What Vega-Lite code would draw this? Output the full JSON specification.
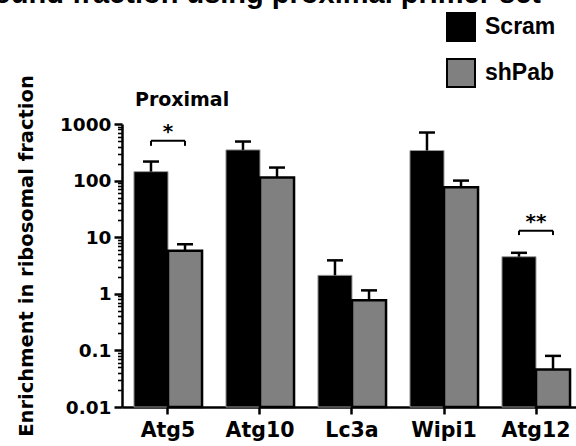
{
  "$schema": "https://vega.github.io/schema/vega-lite/v6.json",
  "width": 460,
  "height": 283,
  "autosize": {"type": "none"},
  "padding": {"left": 122, "top": 124, "right": 0, "bottom": 39},
  "background": "white",
  "title": {
    "text": "Enrichment in ribosome bound fraction using proximal primer set",
    "anchor": "end",
    "frame": "group",
    "offset": 0,
    "dy": 20,
    "dx": -41,
    "baseline": "alphabetic",
    "font": "Liberation Sans",
    "fontSize": 29,
    "fontWeight": "bold",
    "color": "black"
  },
  "config": {
    "view": {"stroke": null},
    "axis": {
      "grid": false,
      "domainColor": "black",
      "domainWidth": 2.5,
      "tickColor": "black",
      "tickWidth": 2.5,
      "labelColor": "black",
      "labelFont": "DejaVu Sans",
      "labelFontWeight": "bold",
      "labelOverlap": false
    }
  },
  "datasets": {
    "bars": [
      {"gene": "Atg5", "group": "Scram", "value": 144, "upper": 217},
      {"gene": "Atg5", "group": "shPab", "value": 5.77, "upper": 7.5},
      {"gene": "Atg10", "group": "Scram", "value": 349, "upper": 490},
      {"gene": "Atg10", "group": "shPab", "value": 113, "upper": 170},
      {"gene": "Lc3a", "group": "Scram", "value": 2.12, "upper": 3.9},
      {"gene": "Lc3a", "group": "shPab", "value": 0.773, "upper": 1.15},
      {"gene": "Wipi1", "group": "Scram", "value": 340, "upper": 707},
      {"gene": "Wipi1", "group": "shPab", "value": 76.4, "upper": 100},
      {"gene": "Atg12", "group": "Scram", "value": 4.52, "upper": 5.3},
      {"gene": "Atg12", "group": "shPab", "value": 0.046, "upper": 0.08}
    ],
    "sig": [
      {"gene": "Atg5", "level": 505, "label": "*"},
      {"gene": "Atg12", "level": 13, "label": "**"}
    ],
    "sigEnds": [
      {"gene": "Atg5", "group": "Scram", "level": 505, "end": 411},
      {"gene": "Atg5", "group": "shPab", "level": 505, "end": 411},
      {"gene": "Atg12", "group": "Scram", "level": 13, "end": 10.9},
      {"gene": "Atg12", "group": "shPab", "level": 13, "end": 10.9}
    ],
    "note": [
      {"gene": "Atg5", "y": 2040, "label": "Proximal"}
    ]
  },
  "encoding": {
    "x": {
      "field": "gene",
      "type": "nominal",
      "sort": ["Atg5", "Atg10", "Lc3a", "Wipi1", "Atg12"],
      "scale": {"paddingInner": 0.26, "paddingOuter": 0.13},
      "axis": {
        "title": null,
        "labelAngle": 0,
        "labelFontSize": 20.5,
        "tickSize": 7,
        "labelPadding": 6
      }
    }
  },
  "resolve": {"axis": {"y": "independent"}},
  "layer": [
    {
      "data": {"name": "bars"},
      "mark": {"type": "bar"},
      "encoding": {
        "xOffset": {"field": "group", "type": "nominal", "scale": {"paddingInner": 0, "paddingOuter": 0}},
        "y": {
          "field": "value",
          "type": "quantitative",
          "scale": {"type": "log", "domain": [0.01, 1000], "nice": false},
          "axis": {
            "values": [0.01, 0.1, 1, 10, 100, 1000],
            "format": "~g",
            "labelFontSize": 18.5,
            "tickSize": 8,
            "labelPadding": 3,
            "title": "Enrichment in ribosomal fraction",
            "titleFont": "DejaVu Sans",
            "titleFontSize": 19.5,
            "titleFontWeight": "bold",
            "titleColor": "black",
            "titleX": -90,
            "titleY": 131.5,
            "titleAngle": -90,
            "titleAlign": "center",
            "titleBaseline": "alphabetic"
          }
        },
        "y2": {"datum": 0.01},
        "color": {
          "field": "group",
          "type": "nominal",
          "scale": {"domain": ["Scram", "shPab"], "range": ["#000000", "#808080"]},
          "legend": {
            "orient": "none",
            "legendX": 324,
            "legendY": -112,
            "title": null,
            "symbolType": "square",
            "symbolSize": 784,
            "symbolStrokeColor": "black",
            "symbolStrokeWidth": 2,
            "symbolOpacity": 1,
            "labelFont": "Liberation Sans",
            "labelFontWeight": "bold",
            "labelFontSize": 23,
            "labelColor": "black",
            "rowPadding": 10,
            "labelOffset": 9,
            "padding": 0
          }
        },
        "stroke": {"condition": {"test": "datum.group === 'shPab'", "value": "#000000"}, "value": "#9a9a9a"},
        "strokeWidth": {"condition": {"test": "datum.group === 'shPab'", "value": 2.5}, "value": 1},
        "opacity": {"value": 1}
      }
    },
    {
      "data": {"name": "bars"},
      "mark": {"type": "rule", "color": "black", "strokeWidth": 2.5},
      "encoding": {
        "xOffset": {"field": "group", "type": "nominal"},
        "y": {
          "field": "value",
          "type": "quantitative",
          "axis": {
            "values": [0.02, 0.03, 0.04, 0.05, 0.06, 0.07, 0.08, 0.09, 0.2, 0.3, 0.4, 0.5, 0.6, 0.7, 0.8, 0.9, 2, 3, 4, 5, 6, 7, 8, 9, 20, 30, 40, 50, 60, 70, 80, 90, 200, 300, 400, 500, 600, 700, 800, 900],
            "labels": false,
            "domain": false,
            "tickSize": 4.5,
            "tickWidth": 1.6,
            "title": null,
            "orient": "left"
          }
        },
        "y2": {"field": "upper"}
      }
    },
    {
      "data": {"name": "bars"},
      "mark": {"type": "tick", "orient": "horizontal", "color": "black", "size": 16, "thickness": 2.5, "opacity": 1},
      "encoding": {
        "xOffset": {"field": "group", "type": "nominal"},
        "y": {"field": "upper", "type": "quantitative", "axis": null}
      }
    },
    {
      "data": {"name": "sig"},
      "mark": {"type": "tick", "orient": "horizontal", "color": "black", "size": 34, "thickness": 2, "opacity": 1},
      "encoding": {
        "y": {"field": "level", "type": "quantitative", "axis": null}
      }
    },
    {
      "data": {"name": "sigEnds"},
      "mark": {"type": "rule", "color": "black", "strokeWidth": 2},
      "encoding": {
        "xOffset": {"field": "group", "type": "nominal"},
        "y": {"field": "level", "type": "quantitative", "axis": null},
        "y2": {"field": "end"}
      }
    },
    {
      "data": {"name": "sig"},
      "mark": {"type": "text", "font": "DejaVu Sans", "fontWeight": "bold", "fontSize": 20, "color": "black", "baseline": "alphabetic", "dy": -3},
      "encoding": {
        "y": {"field": "level", "type": "quantitative", "axis": null},
        "text": {"field": "label"}
      }
    },
    {
      "data": {"name": "note"},
      "mark": {"type": "text", "font": "DejaVu Sans", "fontWeight": "bold", "fontSize": 19, "color": "black", "baseline": "alphabetic", "align": "left", "dx": 1, "clip": false},
      "encoding": {
        "x": {"field": "gene", "type": "nominal", "bandPosition": 0},
        "y": {"field": "y", "type": "quantitative", "axis": null},
        "text": {"field": "label"}
      }
    }
  ]
}
